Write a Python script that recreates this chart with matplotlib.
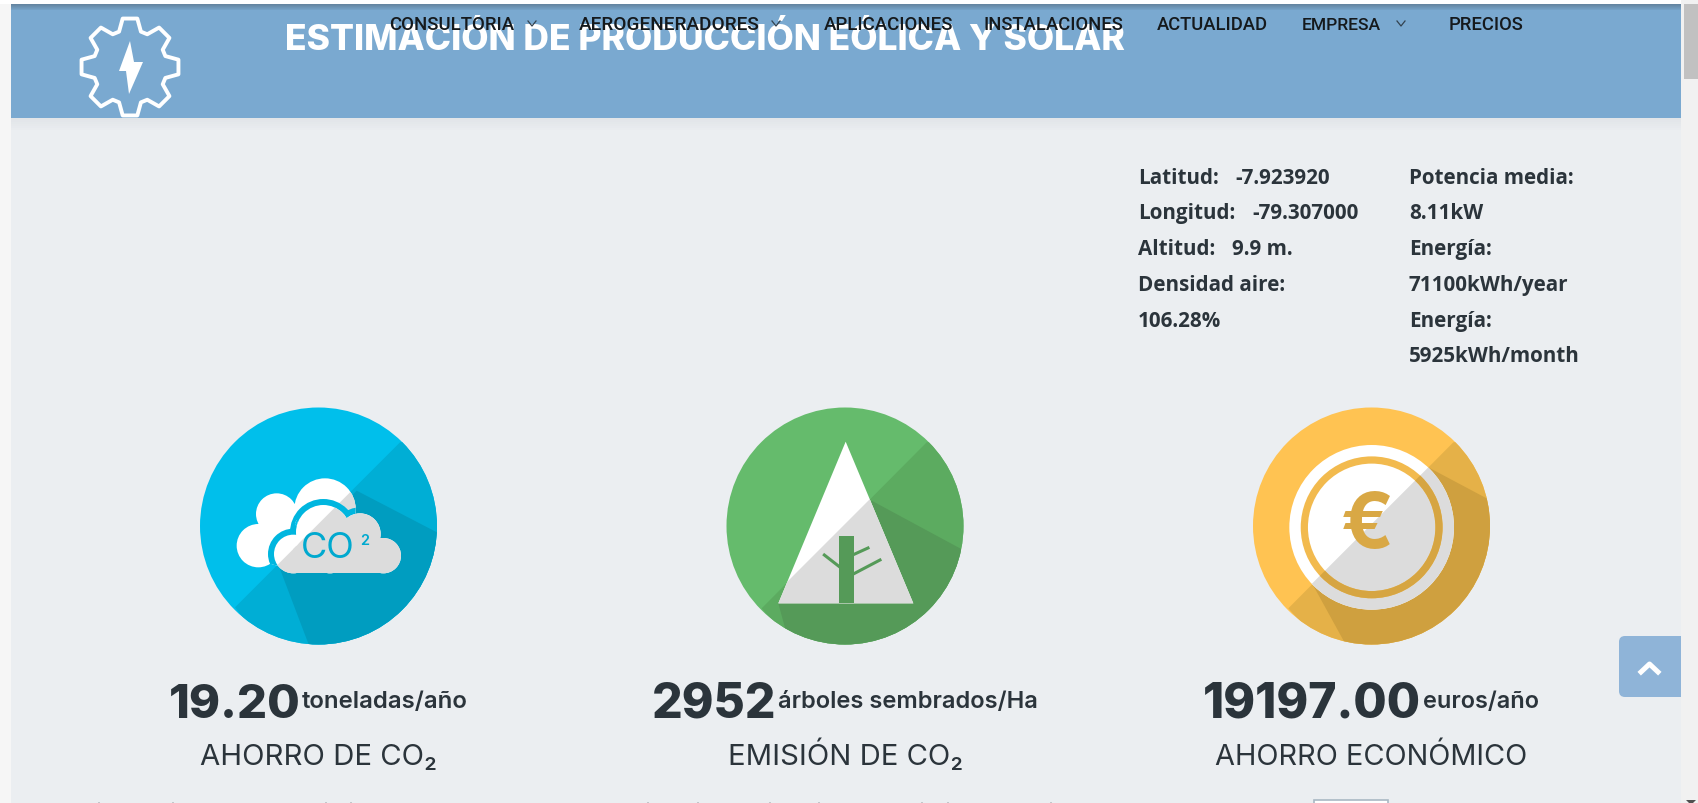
import numpy as np
import matplotlib
matplotlib.use('Agg')
import matplotlib.pyplot as plt
from matplotlib.patches import Rectangle, Circle, Polygon, FancyBboxPatch, PathPatch
from matplotlib.path import Path

# page texts
title = 'ESTIMACIÓN DE PRODUCCIÓN EÓLICA Y SOLAR'
nav_items = ['CONSULTORIA', 'AEROGENERADORES', 'APLICACIONES', 'INSTALACIONES',
             'ACTUALIDAD', 'EMPRESA', 'PRECIOS']
nav_left = [389, 579, 824, 984, 1157, 1302, 1449]
nav_right = [514, 759, 953, 1124, 1268, 1381, 1524]
nav_chevrons = [532, 776, 1401]

info_col1 = ['Latitud:', 'Longitud:', 'Altitud:', 'Densidad aire:', '106.28%']
info_values = ['-7.923920', '-79.307000', '9.9 m.']
info_value_x = [1235, 1252, 1232]
info_col2 = ['Potencia media:', '8.11kW', 'Energía:', '71100kWh/year', 'Energía:', '5925kWh/month']
info_base = [184, 219, 255, 291, 327, 362]

big_numbers = ['19.20', '2952', '19197.00']
big_left = [169, 652, 1203]
big_right = [301, 777, 1422]
units = ['toneladas/año', 'árboles sembrados/Ha', 'euros/año']
unit_right = [468, 1038, 1539]
labels = ['AHORRO DE CO₂', 'EMISIÓN DE CO₂', 'AHORRO ECONÓMICO']
label_left = [200, 728, 1215]
label_right = [437, 963, 1528]

# tops of the next text line, cut by the bottom edge
speck_x = [98, 172, 325, 350, 647, 697, 769, 818, 921, 947, 1050]

BG = '#ebeef1'
HEADER = '#7aa9d0'
INK = '#2b343b'

fig = plt.figure(figsize=(16.98, 8.04), dpi=100, facecolor='white')
ax = fig.add_axes([0, 0, 1, 1])
ax.set_xlim(0, 1698)
ax.set_ylim(804, 0)
ax.axis('off')


def fit_text(s, x0, x1, y, font, weight, color, z=10):
    # start from a size, then scale it so the text fills x0..x1
    t = ax.text(x0, y, s, family=font, weight=weight, color=color, fontsize=20,
                va='baseline', ha='left', zorder=z)
    w = t.get_window_extent(fig.canvas.get_renderer()).width
    t.set_fontsize(20 * (x1 - x0) / w)
    return t


def crop(x0, y0):
    # crops of the icons were read at 3x
    return lambda p: [(x0 + a / 3, y0 + b / 3) for a, b in p]


# page background and scrollbar
ax.add_patch(Rectangle((0, 5), 11, 799, color='#f6f6f6', lw=0, zorder=1))
ax.add_patch(Rectangle((11, 5), 1670, 799, color=BG, lw=0, zorder=1))
ax.add_patch(Rectangle((1681, 0), 17, 804, color='#f1f1f1', lw=0, zorder=1))
ax.add_patch(Rectangle((1684, 5), 14, 75, color='#c1c1c1', lw=0, zorder=2))
ax.add_patch(Polygon([(1686, 801), (1696, 801), (1691, 806)], color='#505050', lw=0, zorder=2))

# header with shadow on top and below
ax.add_patch(Rectangle((11, 5), 1670, 114, color=HEADER, lw=0, zorder=2))
for i in range(6):
    ax.add_patch(Rectangle((11, 5 + i), 1670, 1, color='#4a5a68', alpha=0.45 - i * 0.07, lw=0, zorder=3))
    ax.add_patch(Rectangle((11, 119 + i * 2), 1670, 2, color='#9aa0a6', alpha=0.11 - i * 0.018, lw=0, zorder=3))

# gear logo
gx, gy = 130, 68
ang, rad = [], []
for k in range(8):
    a = -np.pi / 2 + k * np.pi / 4
    ang += [a - 0.30, a - 0.15, a + 0.15, a + 0.30]
    rad += [37, 49, 49, 37]
gear = [(gx + r * np.cos(a), gy + r * np.sin(a)) for a, r in zip(ang, rad)]
ax.add_patch(Polygon(gear, closed=True, fill=False, ec='white', lw=2.8, joinstyle='round', zorder=4))
ax.add_patch(Polygon([(130, 42), (119, 72), (126, 72), (129, 95), (143, 63), (134, 63)],
                     color='white', lw=0, zorder=4))

# header texts
fit_text(title, 285, 1127, 50, 'Inter', 'heavy', 'white', z=5)
for s, a, b in zip(nav_items, nav_left, nav_right):
    fit_text(s, a, b, 30, 'Roboto', 'medium', '#15191c', z=6)
for c in nav_chevrons:
    ax.plot([c - 4, c, c + 4], [22, 27, 22], color='#33424f', lw=0.9, zorder=6)

# info columns
for s, y in zip(info_col1, info_base):
    ax.text(1138, y, s, family='Open Sans', weight='bold', fontsize=14.9, color=INK, zorder=6)
for s, x, y in zip(info_values, info_value_x, info_base):
    ax.text(x, y, s, family='Open Sans', weight='bold', fontsize=14.9, color=INK, zorder=6)
for s, y in zip(info_col2, info_base):
    ax.text(1409, y, s, family='Open Sans', weight='bold', fontsize=14.9, color=INK, zorder=6)

# CO2 icon
P = crop(180, 400)
disc = Circle((318.5, 527), 118.5, color='#00bfeb', lw=0, zorder=4)
ax.add_patch(disc)
for pts, col in [([(660, 130), (165, 625), (300, 800), (900, 800), (900, 100)], '#00aed5'),
                 ([(530, 275), (790, 410), (790, 760), (395, 760), (300, 510)], '#009dc0')]:
    q = Polygon(P(pts), color=col, lw=0, zorder=4.1)
    ax.add_patch(q)
    q.set_clip_path(disc)
half = Polygon(P([(1000, -210), (-210, 1000), (1000, 1000)]), transform=ax.transData, visible=False)
back_cloud = [(235, 440, 65), (290, 345, 62), (435, 330, 92), (300, 430, 70)]
front_cloud = [(340, 465, 58), (430, 400, 82), (540, 405, 62), (610, 470, 53), (450, 470, 53)]
back_path = Path.make_compound_path(*[Path.circle(P([(a, b)])[0], r / 3) for a, b, r in back_cloud])
for color, clip in [('white', False), ('#dcdcdc', True)]:
    p = PathPatch(back_path, fc=color, lw=0, zorder=4.2)
    ax.add_patch(p)
    if clip:
        p.set_clip_path(half)
# ring round the front cloud only shows over the back cloud
for a, b, r in front_cloud[:3]:
    c = Circle(P([(a, b)])[0], (r + 18) / 3, color='#00b6df', lw=0, zorder=4.3)
    ax.add_patch(c)
    c.set_clip_path(back_path, ax.transData)
for color, clip in [('white', False), ('#dcdcdc', True)]:
    for a, b, r in front_cloud:
        c = Circle(P([(a, b)])[0], r / 3, color=color, lw=0, zorder=4.4)
        ax.add_patch(c)
        if clip:
            c.set_clip_path(half)
    c = Rectangle(P([(340, 440)])[0], 270 / 3, 83 / 3, color=color, lw=0, zorder=4.4)
    ax.add_patch(c)
    if clip:
        c.set_clip_path(half)
ax.text(*P([(362, 473)])[0], 'CO', family='Inter', fontsize=26, color='#00a9cf', zorder=5)
ax.text(*P([(540, 435)])[0], '2', family='Inter', fontsize=10.5, weight='semibold', color='#00a9cf', zorder=5)

# tree icon
P = crop(710, 400)
disc = Circle((845, 527), 118.5, color='#65bb6c', lw=0, zorder=4)
ax.add_patch(disc)
for pts, col in [([(650, 130), (155, 628), (300, 800), (900, 800), (900, 100)], '#5cab60'),
                 ([(485, 305), (800, 475), (800, 760), (245, 760), (205, 613)], '#559a58')]:
    q = Polygon(P(pts), color=col, lw=0, zorder=4.1)
    ax.add_patch(q)
    q.set_clip_path(disc)
half = Polygon(P([(1000, -220), (-220, 1000), (1000, 1000)]), transform=ax.transData, visible=False)
tri = P([(407, 128), (205, 613), (610, 613)])
ax.add_patch(Polygon(tri, color='white', lw=0, zorder=4.2))
q = Polygon(tri, color='#dcdcdc', lw=0, zorder=4.3)
ax.add_patch(q)
q.set_clip_path(half)
ax.add_patch(Polygon(P([(388, 412), (432, 412), (432, 613), (388, 613)]), color='#559a58', lw=0, zorder=4.4))
for pts in [[(388, 503), (343, 468)], [(430, 467), (474, 447)], [(430, 525), (510, 483)]]:
    xy = np.array(P(pts))
    ax.plot(xy[:, 0], xy[:, 1], color='#559a58', lw=2.2, zorder=4.4)

# coin icon
P = crop(1240, 400)
disc = Circle((1371.5, 527), 118.5, color='#ffc352', lw=0, zorder=4)
ax.add_patch(disc)
for pts, col in [([(640, 130), (145, 628), (300, 800), (900, 800), (900, 100)], '#e5b148'),
                 ([(565, 205), (800, 330), (800, 760), (330, 760), (220, 560)], '#cfa03f')]:
    q = Polygon(P(pts), color=col, lw=0, zorder=4.1)
    ax.add_patch(q)
    q.set_clip_path(disc)
half = Polygon(P([(1000, -230), (-230, 1000), (1000, 1000)]), transform=ax.transData, visible=False)
cc = P([(395, 385)])[0]
ax.add_patch(Circle(cc, 247 / 3, color='white', lw=0, zorder=4.2))
q = Circle(cc, 247 / 3, color='#dcdcdc', lw=0, zorder=4.3)
ax.add_patch(q)
q.set_clip_path(half)
ax.add_patch(Circle(cc, 202 / 3, fill=False, ec='#f2ba4e', lw=5.2, zorder=4.4))
q = Circle(cc, 202 / 3, fill=False, ec='#d6a542', lw=5.2, zorder=4.5)
ax.add_patch(q)
q.set_clip_path(half)
ax.text(cc[0] - 4.5, cc[1] - 1, '€', family='Inter', weight='bold', fontsize=56, color='#d9a845',
        ha='center', va='center', zorder=5)

# big numbers, units and captions
for num, a, b, u, ur, lab, la, lb in zip(big_numbers, big_left, big_right, units, unit_right,
                                         labels, label_left, label_right):
    fit_text(num, a, b, 718, 'Inter', 'heavy', INK)
    fit_text(u, b + 1, ur, 708, 'Inter', 'semibold', INK)
    fit_text(lab, la, lb, 765, 'Inter', 'normal', INK)

# back to top button
ax.add_patch(FancyBboxPatch((1619, 637), 72, 61, boxstyle='round,pad=0,rounding_size=6',
                            color='#8fb4d8', lw=0, zorder=6))
ax.add_patch(Rectangle((1681, 630), 17, 75, color='#f1f1f1', lw=0, zorder=6.5))
ax.plot([1641, 1649.5, 1658], [673, 665, 673], color='white', lw=3.6, zorder=7)

# input box and text tops cut by the bottom edge
ax.add_patch(Rectangle((1314.5, 801), 74, 6, fc='white', ec='#a9b8c4', lw=1.2, zorder=6))
for x in speck_x:
    ax.add_patch(Rectangle((x, 802.5), 2.5, 2, color='#c2c6ca', lw=0, zorder=6))

plt.savefig('out.png', dpi=100, facecolor=fig.get_facecolor())
